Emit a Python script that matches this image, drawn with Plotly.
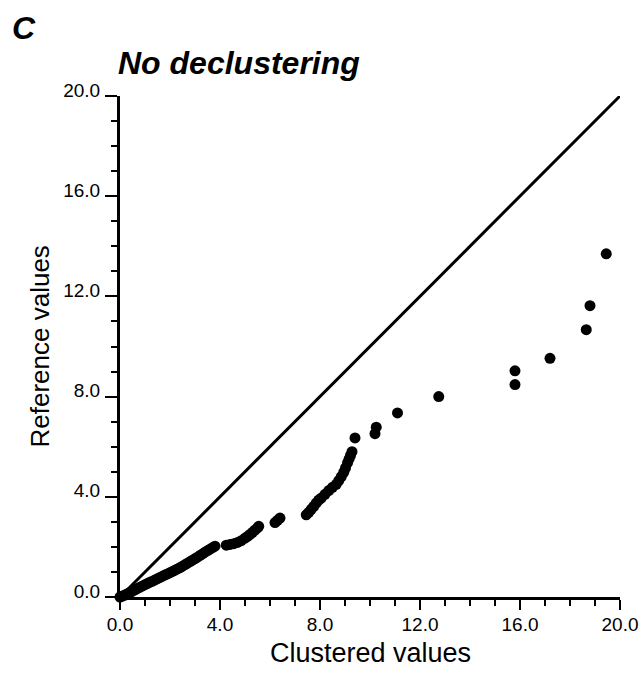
import plotly.graph_objects as go

# Q-Q data: clustered values (x) vs reference values (y)
clustered = [0.0, 0.1, 0.2, 0.3, 0.4, 0.5, 0.6, 0.7, 0.8, 0.9, 1.0, 1.1, 1.2, 1.3, 1.4, 1.5,
             1.6, 1.7, 1.8, 1.9, 2.0, 2.1, 2.2, 2.3, 2.4, 2.5, 2.6, 2.7, 2.8, 2.9, 3.0, 3.1,
             3.2, 3.3, 3.4, 3.5, 3.6, 3.7, 3.8,
             4.25, 4.4, 4.55, 4.7, 4.85, 5.0, 5.1, 5.2, 5.3, 5.4, 5.5, 5.55,
             6.2, 6.3, 6.4,
             7.45, 7.55, 7.65, 7.75, 7.85, 7.95, 8.05, 8.2, 8.35, 8.5, 8.65, 8.75, 8.85,
             8.95, 9.02, 9.1, 9.16, 9.22, 9.28, 9.4,
             10.2, 10.25, 11.1, 12.75, 15.8, 15.8, 17.2, 18.65, 18.8, 19.45]
reference = [0.0, 0.04, 0.08, 0.13, 0.18, 0.24, 0.29, 0.34, 0.39, 0.44, 0.49, 0.54, 0.59, 0.63,
             0.68, 0.73, 0.78, 0.83, 0.88, 0.92, 0.97, 1.02, 1.07, 1.12, 1.17, 1.23, 1.29, 1.35,
             1.41, 1.47, 1.53, 1.59, 1.66, 1.72, 1.79, 1.85, 1.91, 1.97, 2.03,
             2.07, 2.1, 2.13, 2.18, 2.25, 2.35, 2.42, 2.5, 2.58, 2.67, 2.76, 2.82,
             2.97, 3.06, 3.15,
             3.28, 3.38, 3.5, 3.62, 3.75, 3.87, 3.95, 4.1, 4.25, 4.38, 4.5, 4.65, 4.8,
             4.98, 5.15, 5.35, 5.5, 5.65, 5.8, 6.35,
             6.52, 6.78, 7.35, 8.0, 8.48, 9.03, 9.53, 10.67, 11.63, 13.7]

identity_x = [0.0, 20.0]
identity_y = [0.0, 20.0]

tick_vals = [0, 4, 8, 12, 16, 20]
tick_text = ["0.0", "4.0", "8.0", "12.0", "16.0", "20.0"]

FONT = "Liberation Sans, Arial, Helvetica, sans-serif"

fig = go.Figure()
fig.add_trace(go.Scatter(x=identity_x, y=identity_y, mode="lines",
                         line=dict(color="black", width=3), hoverinfo="skip",
                         showlegend=False, cliponaxis=False))
fig.add_trace(go.Scatter(x=clustered, y=reference, mode="markers",
                         marker=dict(color="black", size=11, line=dict(width=0)),
                         showlegend=False, cliponaxis=False))

axis_common = dict(
    range=[0, 20], showgrid=False, zeroline=False, automargin=False,
    showline=True, linecolor="black", linewidth=3,
    ticks="outside", tickwidth=2, tickcolor="black",
    tickvals=tick_vals, ticktext=tick_text,
    tickfont=dict(family=FONT, size=19, color="black"),
    minor=dict(dtick=1, tick0=0, ticks="outside", ticklen=6, tickwidth=1.5, tickcolor="black"),
    fixedrange=True,
)

fig.update_layout(
    width=644, height=682,
    margin=dict(l=120, r=24, t=96, b=85),
    paper_bgcolor="white", plot_bgcolor="white",
    xaxis=dict(**axis_common, ticklen=10, ticklabelstandoff=-2),
    yaxis=dict(**axis_common, ticklen=12, ticklabelstandoff=1, ticklabelshift=-6),
    annotations=[
        dict(text="<b><i>C</i></b>", xref="paper", yref="paper", x=0, y=1,
             xanchor="left", yanchor="bottom", xshift=-110, yshift=48,
             showarrow=False, font=dict(family=FONT, size=32, color="black")),
        dict(text="<b><i>No declustering</i></b>", xref="paper", yref="paper", x=0, y=1,
             xanchor="left", yanchor="bottom", xshift=-4, yshift=13,
             showarrow=False, font=dict(family=FONT, size=32, color="black")),
        dict(text="Clustered values", xref="paper", yref="paper", x=0.5, y=0,
             xanchor="center", yanchor="middle", yshift=-56,
             showarrow=False, font=dict(family=FONT, size=27, color="black")),
        dict(text="Reference values", xref="paper", yref="paper", x=0, y=0.5,
             xanchor="center", yanchor="middle", xshift=-81, textangle=-90,
             showarrow=False, font=dict(family=FONT, size=26, color="black")),
    ],
)

fig.write_html("out.html")
